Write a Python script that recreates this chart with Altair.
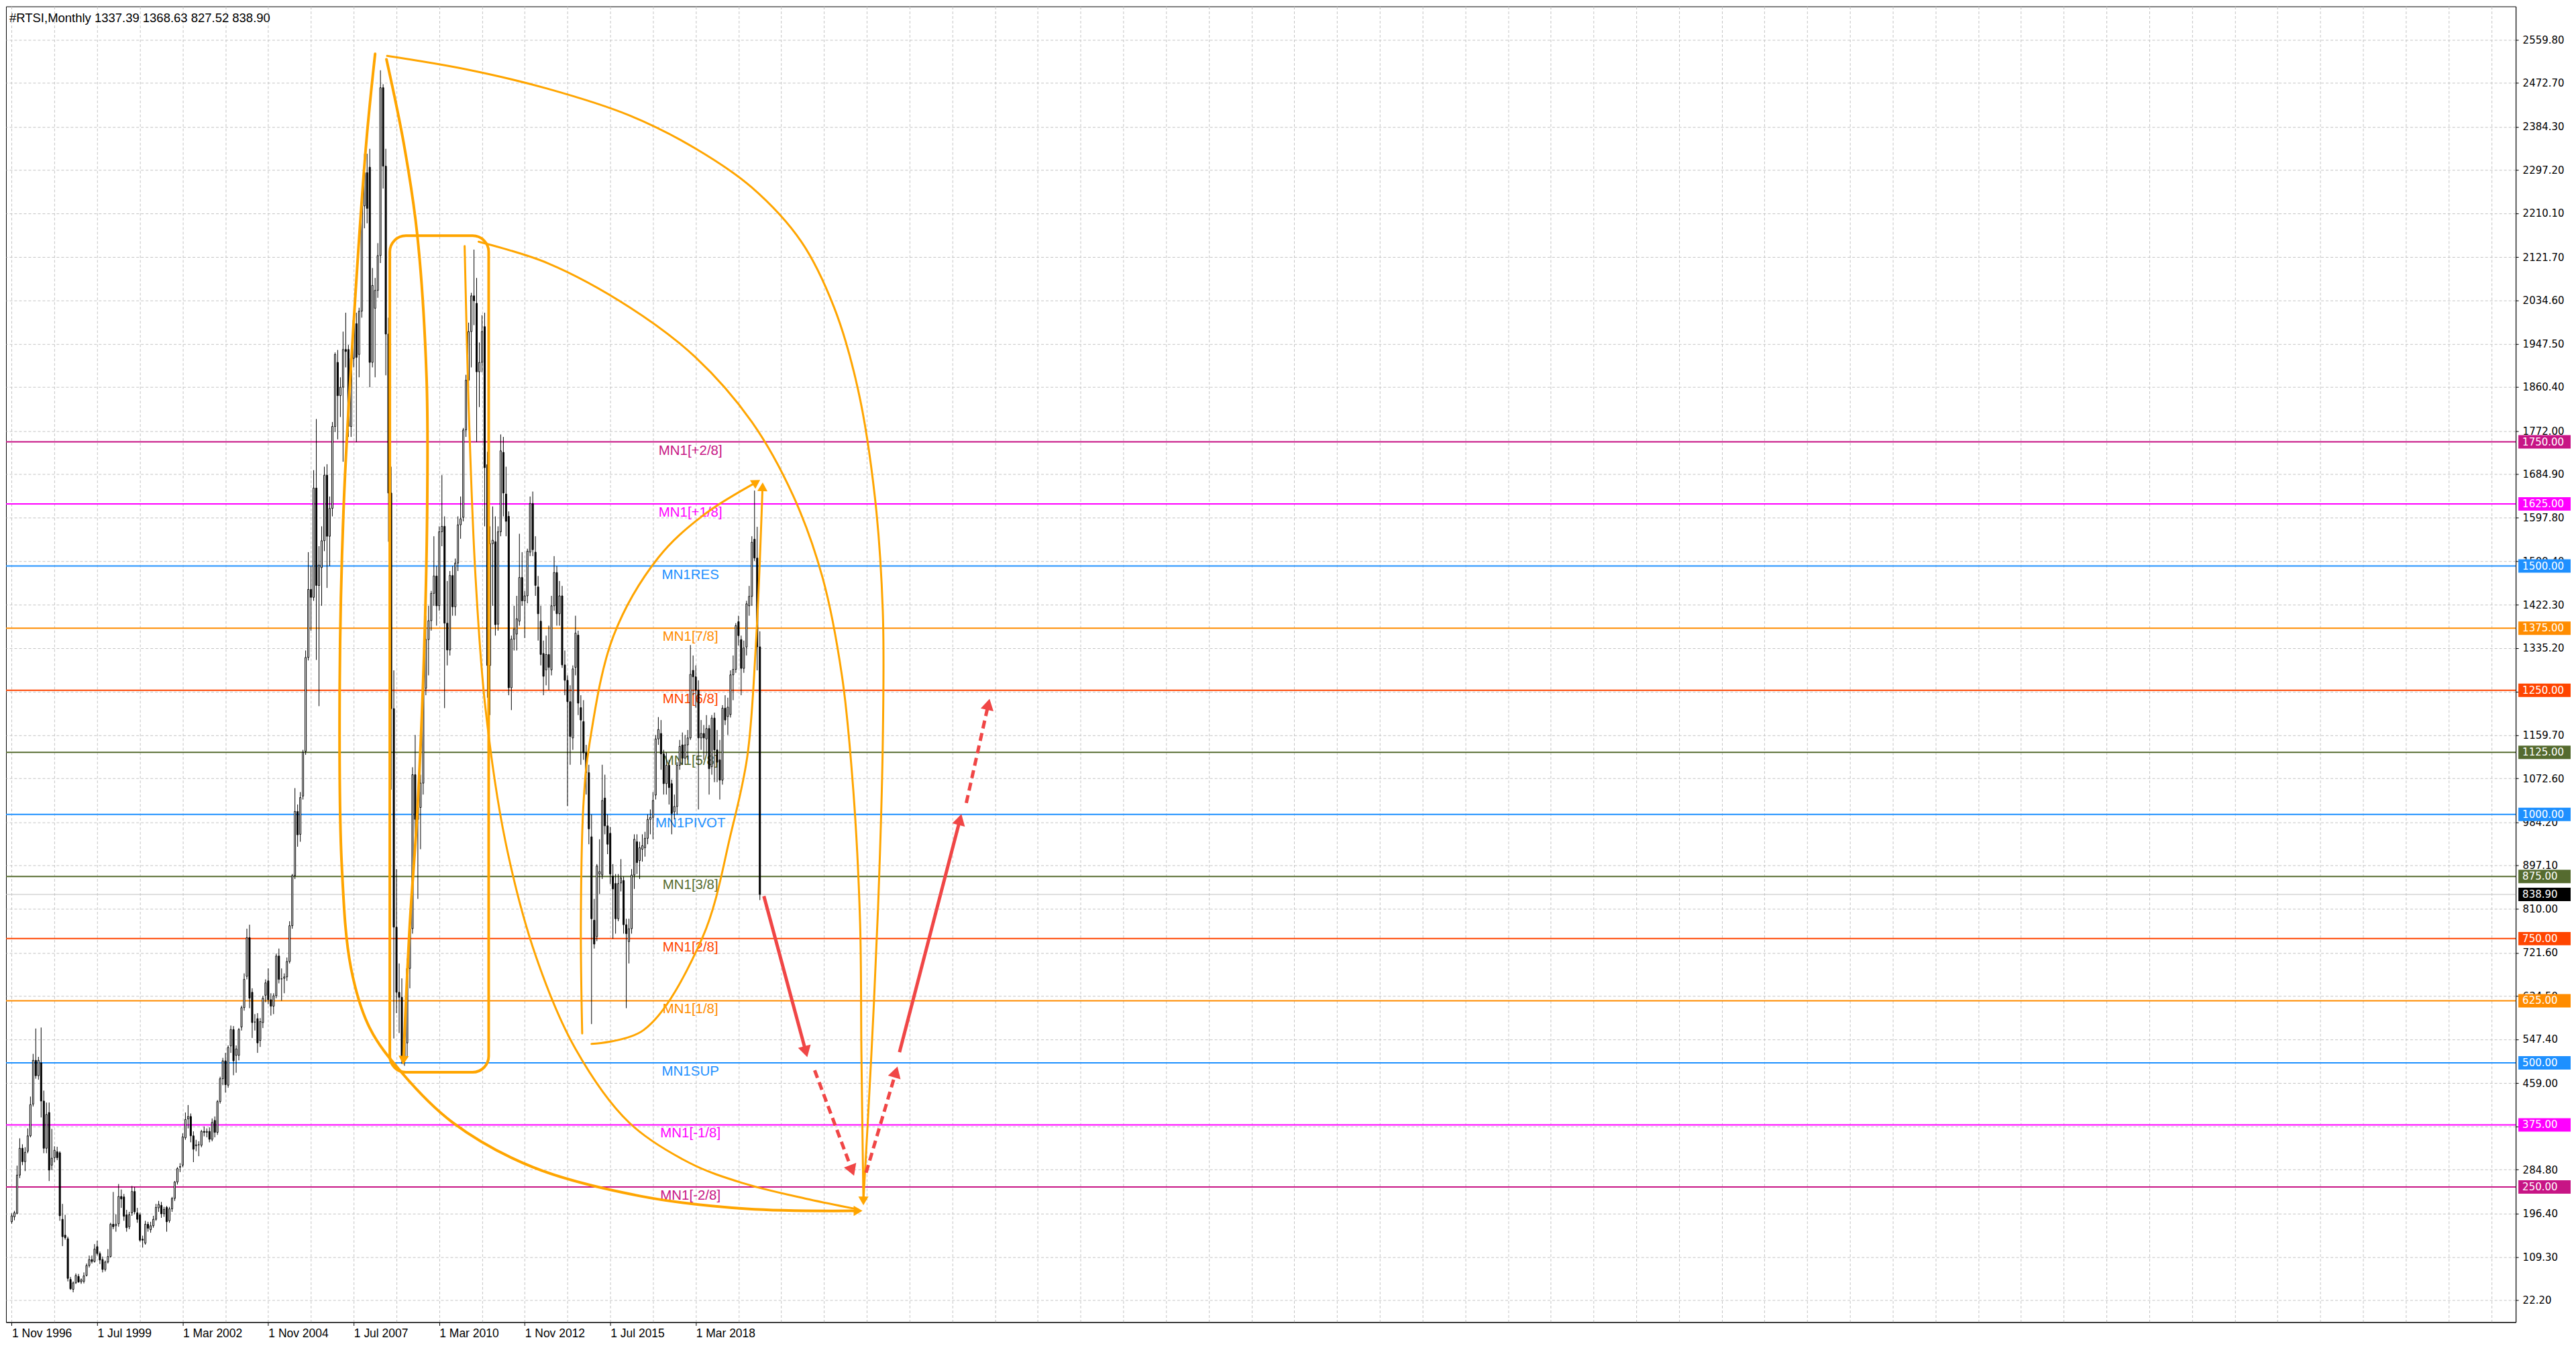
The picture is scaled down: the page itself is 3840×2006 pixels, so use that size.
import altair as alt
import pandas as pd

# ---------------- candle data (month index 0 = Nov 1996) ----------------
opens = [180,190,197,274,328,301,322,353,417,505,474,500,423,328,400,294,309,321,319,185,153,146,64,44,57,70,
         59,60,72,92,104,100,130,116,104,84,99,110,175,172,176,231,230,194,170,198,241,198,194,145,
         137,175,164,172,185,208,213,196,209,182,206,227,260,290,294,349,387,392,353,333,335,334,362,360,
         362,346,384,360,422,468,504,455,534,567,515,515,572,611,674,752,642,582,589,545,581,636,665,627,
         614,635,715,669,670,673,704,776,877,1006,960,1037,1127,1316,1453,1437,1657,1461,1497,1551,1683,1560,1616,1781,
         1910,1843,1860,1936,1936,1781,1918,1988,1926,2013,2225,2292,2303,1910,2019,2055,2125,2463,2305,1967,1647,1213,773,642,
         632,512,540,690,770,1080,990,1014,1063,1254,1352,1390,1445,1480,1420,1569,1580,1385,1331,1481,1418,1506,1583,1598,
         1774,1874,1972,2044,2029,1891,1910,1982,1704,1300,1545,1549,1383,1569,1729,1645,1600,1255,1353,1363,1389,1477,1430,1440,
         1528,1626,1528,1458,1389,1324,1291,1322,1291,1420,1487,1404,1440,1301,1270,1227,1154,1296,1361,1215,1187,1124,1084,955,
         787,754,880,878,1033,977,962,876,861,790,862,867,778,744,770,878,945,907,930,933,952,990,994,1039,
         1152,1163,1122,1062,1099,1062,1005,1016,1099,1140,1113,1140,1154,1290,1277,1250,1154,1163,1152,1173,1096,1194,1130,1110,
         1069,1214,1197,1201,1281,1292,1388,1352,1294,1337,1420,1439,1554,1516,1337.39]
highs = [197,202,293,348,336,330,368,432,518,569,512,571,444,420,420,367,332,331,322,216,194,150,69,60,76,75,
         66,78,96,112,112,135,142,120,110,102,125,178,240,195,256,245,236,204,200,252,250,208,198,152,
         182,180,180,192,216,222,220,210,212,210,230,262,290,298,358,400,415,398,362,345,342,365,372,368,
         370,388,392,425,472,510,520,535,575,574,535,570,615,680,770,778,650,598,600,590,635,668,690,640,
         640,720,730,690,680,712,785,880,1053,1020,1045,1130,1330,1528,1500,1693,1796,1540,1580,1700,1705,1640,1790,1930,
         1935,1880,1972,2010,1945,1925,2000,2010,2020,2230,2330,2330,2340,2100,2080,2150,2498,2470,2340,2000,1700,1290,890,700,
         670,560,710,800,1095,1160,1030,1080,1260,1400,1420,1450,1560,1500,1580,1683,1600,1470,1490,1500,1515,1600,1640,1778,
         1885,1990,2050,2137,2080,1950,2005,2010,1730,1580,1620,1600,1580,1765,1760,1700,1610,1360,1420,1440,1565,1528,1450,1535,
         1640,1650,1560,1480,1420,1350,1360,1380,1440,1520,1500,1470,1460,1330,1280,1260,1300,1400,1370,1240,1230,1140,1100,1000,
         830,900,950,1100,1080,1000,975,900,880,880,910,875,790,790,890,960,960,945,960,965,1000,1010,1045,1160,
         1196,1190,1130,1125,1110,1070,1040,1105,1150,1165,1160,1170,1341,1320,1300,1270,1190,1180,1200,1180,1200,1205,1170,1150,
         1220,1240,1235,1290,1320,1385,1400,1360,1350,1430,1460,1560,1652,1579,1368.63]
lows = [176,183,195,268,294,282,318,350,412,468,466,390,318,318,262,284,300,304,182,131,144,60,43,38,55,57,
        55,56,70,88,96,98,112,95,78,80,96,108,165,160,170,208,182,160,165,192,195,178,140,128,
        134,160,158,168,182,200,188,190,160,178,200,222,255,280,290,345,368,340,300,322,312,330,352,350,
        340,342,350,355,418,455,440,450,520,475,480,505,565,605,668,610,550,565,520,532,570,622,618,595,
        598,630,660,625,640,665,700,770,870,935,945,1030,1120,1310,1370,1430,1311,1218,1420,1530,1456,1500,1600,1770,
        1755,1800,1710,1900,1760,1760,1900,1750,1880,2000,2180,2190,1860,1900,1880,2040,2110,2260,1884,1549,1050,549,600,560,
        498,494,510,650,760,930,830,930,1040,1240,1280,1370,1420,1380,1410,1540,1214,1300,1320,1400,1400,1490,1555,1590,
        1760,1860,1900,1985,1750,1820,1890,1580,1235,1200,1420,1360,1370,1560,1600,1560,1240,1210,1330,1330,1380,1420,1355,1425,
        1520,1520,1440,1350,1300,1240,1260,1250,1280,1410,1380,1380,1295,1240,1017,1100,1130,1280,1200,1100,1110,1040,940,578,
        730,745,840,870,960,920,860,750,760,785,845,760,610,700,760,850,880,870,905,915,940,960,950,1030,
        1140,1090,1040,1040,1020,960,990,1000,1090,1100,1100,1110,1150,1240,1215,1010,1130,1110,1120,1040,1080,1065,1065,1030,
        1060,1180,1160,1195,1230,1285,1340,1240,1285,1320,1400,1420,1510,1290,827.52]
closes = [192,198,274,328,301,320,353,416,505,474,505,423,328,396,284,308,324,309,192,150,148,66,45,57,72,59,
          63,71,92,104,100,125,116,103,84,99,110,175,170,175,231,226,191,168,194,241,200,185,143,143,
          175,167,172,185,209,215,196,205,180,206,227,260,287,291,351,386,392,353,326,335,335,362,360,362,
          346,380,360,422,468,504,456,531,567,504,528,567,611,668,752,630,581,582,540,583,630,661,627,614,
          635,715,668,669,673,704,776,877,1006,959,1034,1125,1316,1453,1437,1657,1461,1502,1551,1683,1560,1616,1781,1926,
          1843,1860,1936,1932,1781,1918,1995,1920,2013,2225,2292,2220,1910,2065,2055,2125,2463,2305,1967,1647,1213,773,642,632,
          512,540,690,770,1080,990,1014,1063,1254,1352,1390,1445,1480,1420,1569,1580,1385,1331,1481,1418,1506,1583,1595,1774,
          1874,1972,2044,2034,1891,1910,1972,1698,1300,1545,1552,1382,1569,1732,1647,1590,1255,1353,1373,1394,1477,1430,1440,1530,
          1626,1533,1461,1404,1322,1278,1322,1296,1420,1487,1404,1440,1301,1270,1227,1157,1293,1365,1224,1190,1124,1084,971,790,
          739,896,885,1028,977,940,880,850,790,861,872,778,760,770,878,950,903,933,937,952,990,994,1028,1152,
          1171,1122,1062,1099,1054,1002,1016,1099,1137,1113,1140,1154,1282,1277,1250,1154,1163,1154,1173,1092,1194,1130,1105,1069,
          1214,1190,1216,1281,1292,1380,1360,1294,1335,1424,1439,1548,1516,1337.39,838.90]

# ---------------- Murrey math levels ----------------
mm_levels = [1750, 1625, 1500, 1375, 1250, 1125, 1000, 875, 750, 625, 500, 375, 250]
mm_names = ["MN1[+2/8]", "MN1[+1/8]", "MN1RES", "MN1[7/8]", "MN1[6/8]", "MN1[5/8]", "MN1PIVOT",
            "MN1[3/8]", "MN1[2/8]", "MN1[1/8]", "MN1SUP", "MN1[-1/8]", "MN1[-2/8]"]
mm_colors = ["#C71585", "#FF00FF", "#1E90FF", "#FF8C00", "#FF4500", "#556B2F", "#1E90FF",
             "#556B2F", "#FF4500", "#FF8C00", "#1E90FF", "#FF00FF", "#C71585"]
mm_label_month = 254
last_price = 838.90
header_text = "#RTSI,Monthly  1337.39 1368.63 827.52 838.90"

# ---------------- axes ----------------
y_ticks = [22.2, 109.3, 196.4, 284.8, 371.9, 459.0, 547.4, 634.5, 721.6, 810.0, 897.1, 984.2, 1072.6,
           1159.7, 1246.8, 1335.2, 1422.3, 1509.4, 1597.8, 1684.9, 1772.0, 1860.4, 1947.5, 2034.6,
           2121.7, 2210.1, 2297.2, 2384.3, 2472.7, 2559.8]
x_grid_months = list(range(0, 937, 16))
x_label_months = [0, 32, 64, 96, 128, 160, 192, 224, 256]
x_label_texts = ["1 Nov 1996", "1 Jul 1999", "1 Mar 2002", "1 Nov 2004", "1 Jul 2007",
                 "1 Mar 2010", "1 Nov 2012", "1 Jul 2015", "1 Mar 2018"]

# ---------------- hand-drawn annotations (month index, price) ----------------
curves = {
    "A": ([136, 132.75, 128.5, 124.25, 122.75, 123.5, 127, 134, 146, 165, 195, 235, 275, 316.75],
          [2531, 2356, 2035, 1622, 1262, 900, 690, 570, 480, 380, 290, 232, 206, 202], 4),
    "peak08": ([140.25, 146.75, 151.75, 155.25, 155.5, 154.25, 151.75, 149, 146.6],
               [2520, 2350, 2168, 1880, 1622, 1312, 1000, 780, 505], 4),
    "B": ([140.5, 170, 200.5, 231.25, 255.75, 277, 295.5, 307.75, 316.75, 323, 326, 326, 324.25, 321.75, 318.75],
          [2527, 2500, 2461, 2407, 2341, 2262, 2153, 2021, 1855, 1641, 1410, 1146, 815, 519, 222], 3),
    "C": ([174.75, 200.5, 231.25, 255.75, 277, 292.5, 303.5, 310.75, 315, 317.5, 318, 318.75],
          [2153, 2110, 2021, 1921, 1790, 1641, 1476, 1278, 1046, 783, 519, 222], 3),
    "peak11": ([169.5, 171, 173.5, 177.25, 184.75, 196, 211, 231, 253.5, 273.5, 298.5, 316.75],
               [2144, 1823, 1486, 1216, 946, 717, 528, 380, 299, 258, 225, 205], 3),
    "D1": ([213.5, 213, 214, 216.25, 225.25, 242, 258.75, 278.7],
           [559, 783, 1023, 1143, 1360, 1517, 1602, 1668.8], 3),
    "D2": ([217, 236.5, 258.5, 269.25, 275.25, 278.5, 281],
           [538, 566, 752, 964, 1115, 1341, 1659.6], 3),
}
box_m = [141.5, 178.5]
box_p = [2165, 481]

red_solid = [((281.5, 835.6), (297.2, 522.4)), ((332.25, 521.4), (354.9, 989.8))]
red_dashed = [((300.5, 485), (314.5, 283.3)), ((319.75, 278.7), (330.9, 481.5)), ((357.25, 1023.1), (365.5, 1221.6))]
heads_m = [297.2, 314.5, 330.9, 354.9, 365.5, 146.6, 278.7, 281, 318.75, 316.75]
heads_p = [522.4, 283.3, 481.5, 989.8, 1221.6, 505, 1668.8, 1659.6, 222, 202]
heads_ang = [165, 159.5, 16.4, 14.6, 12.7, 183, 58, 2, 180, 90]
heads_col = ["#F04646"] * 5 + ["#FFA500"] * 5
heads_size = [380] * 5 + [230] * 5

# ---------------- layout ----------------
W, H = 3747, 1964
x_dom = [-0.875, 935.875]
y_dom = [-22.1, 2626.6]

label_expr = " : ".join(f"datum.value === {m} ? '{t}'" for m, t in zip(x_label_months, x_label_texts)) + " : ''"
tick_test = " || ".join(f"datum.value === {m}" for m in x_label_months)

x_axis = alt.Axis(values=x_grid_months, grid=True, gridDash=[4, 3], gridColor="#c4c4c4", gridWidth=1,
                  labelExpr=label_expr, labelAlign="left", labelFont="Liberation Sans", labelFontSize=17.5,
                  labelColor="#000000", labelPadding=3, labelOverlap=False, labelFlush=False,
                  tickSize=5, tickColor={"condition": {"test": tick_test, "value": "#000000"}, "value": "rgba(0,0,0,0)"},
                  domainColor="#000000", title=None)
y_axis = alt.Axis(values=y_ticks, orient="right", grid=True, gridDash=[4, 3], gridColor="#c4c4c4", gridWidth=1,
                  labelExpr="format(datum.value, '.2f')", labelFont="DejaVu Sans", labelFontSize=15,
                  labelColor="#000000", labelPadding=6, labelOverlap=False, labelFlush=False,
                  tickSize=4, tickColor="#000000", domainColor="#000000", title=None)
sx = alt.Scale(domain=x_dom, nice=False, zero=False)
sy = alt.Scale(domain=y_dom, nice=False, zero=False)


def X(f):
    return alt.X(f, type="quantitative", scale=sx, axis=x_axis)


def Y(f):
    return alt.Y(f, type="quantitative", scale=sy, axis=y_axis)


# ---------------- data frames ----------------
candles = pd.DataFrame({"m": list(range(len(opens))), "open": opens, "high": highs, "low": lows, "close": closes})
candles["fillc"] = ["#ffffff" if c >= o else "#000000" for o, c in zip(opens, closes)]

mm = pd.DataFrame({"level": mm_levels, "name": mm_names, "col": mm_colors})
mm["m"] = mm_label_month
mm["lab"] = [f"{v:.2f}" for v in mm_levels]
mm["tcol"] = "#ffffff"

price_box = pd.DataFrame({"level": [last_price], "lab": [f"{last_price:.2f}"], "col": ["#000000"], "tcol": ["#ffffff"]})
boxes = pd.concat([mm[["level", "lab", "col", "tcol"]], price_box], ignore_index=True)

rows = []
for cid, (ms, ps, w) in curves.items():
    for i, (m, p) in enumerate(zip(ms, ps)):
        rows.append({"curve": cid, "idx": i, "m": m, "p": p, "w": w})
curve_df = pd.DataFrame(rows)

rect_df = pd.DataFrame({"m1": [box_m[0]], "m2": [box_m[1]], "p1": [box_p[0]], "p2": [box_p[1]]})


def seg_df(segs):
    r = []
    for k, (a, b) in enumerate(segs):
        r.append({"aid": k, "idx": 0, "m": a[0], "p": a[1]})
        r.append({"aid": k, "idx": 1, "m": b[0], "p": b[1]})
    return pd.DataFrame(r)


solid_df = seg_df(red_solid)
dashed_df = seg_df(red_dashed)
heads_df = pd.DataFrame({"m": heads_m, "p": heads_p, "ang": heads_ang, "col": heads_col, "sz": heads_size})
header_df = pd.DataFrame({"t": [header_text]})

# ---------------- layers ----------------
mm_lines = alt.Chart(mm).mark_rule(strokeWidth=2).encode(
    y=Y("level"), color=alt.Color("col:N", scale=None))
price_line = alt.Chart(price_box).mark_rule(strokeWidth=1, color="#C0C0C0").encode(y=Y("level"))
mm_text = alt.Chart(mm).mark_text(font="Liberation Sans", fontSize=20.5, baseline="top", align="center", dy=3).encode(
    x=X("m"), y=Y("level"), text="name:N", color=alt.Color("col:N", scale=None))

wicks = alt.Chart(candles).mark_rule(strokeWidth=1, color="#000000").encode(
    x=X("m"), y=Y("low"), y2="high")
bodies = alt.Chart(candles).mark_bar(width=2, stroke="#000000", strokeWidth=1).encode(
    x=X("m"), y=Y("open"), y2="close", fill=alt.Fill("fillc:N", scale=None))

curve_lines = alt.Chart(curve_df).mark_line(interpolate="catmull-rom", color="#FFA500", strokeCap="round").encode(
    x=X("m"), y=Y("p"), detail="curve:N", order="idx:Q", strokeWidth=alt.StrokeWidth("w:Q", scale=None))
round_box = alt.Chart(rect_df).mark_rect(fillOpacity=0, stroke="#FFA500", strokeWidth=4, cornerRadius=24).encode(
    x=X("m1"), x2="m2", y=Y("p1"), y2="p2")

red_s = alt.Chart(solid_df).mark_line(color="#F04646", strokeWidth=5).encode(
    x=X("m"), y=Y("p"), detail="aid:N", order="idx:Q")
red_d = alt.Chart(dashed_df).mark_line(color="#F04646", strokeWidth=5, strokeDash=[12, 7]).encode(
    x=X("m"), y=Y("p"), detail="aid:N", order="idx:Q")
heads = alt.Chart(heads_df).mark_point(shape="triangle-up", filled=True, opacity=1, strokeWidth=0).encode(
    x=X("m"), y=Y("p"), angle=alt.Angle("ang:Q", scale=None), color=alt.Color("col:N", scale=None),
    size=alt.Size("sz:Q", scale=None))

box_rects = alt.Chart(boxes).transform_calculate(
    lo="datum.level - 13.5", hi="datum.level + 13.5").mark_rect(clip=False).encode(
    x=alt.value(W + 4), x2=alt.value(W + 82), y=Y("lo:Q"), y2="hi:Q", fill=alt.Fill("col:N", scale=None))
box_text = alt.Chart(boxes).mark_text(clip=False, font="DejaVu Sans", fontSize=15, align="left", baseline="middle").encode(
    x=alt.value(W + 10), y=Y("level"), text="lab:N", color=alt.Color("tcol:N", scale=None))

header = alt.Chart(header_df).mark_text(font="Liberation Sans", fontSize=18.5, align="left", baseline="middle",
                                        color="#000000").encode(x=alt.value(5), y=alt.value(17), text="t:N")

chart = alt.layer(
    mm_lines, price_line, mm_text, wicks, bodies, curve_lines, round_box, red_s, red_d, heads,
    box_rects, box_text, header
).properties(width=W, height=H, padding=0, background="#ffffff").configure_view(
    stroke="#000000", strokeWidth=1)

chart.save("out.html", embed_options={"renderer": "svg", "actions": False})
